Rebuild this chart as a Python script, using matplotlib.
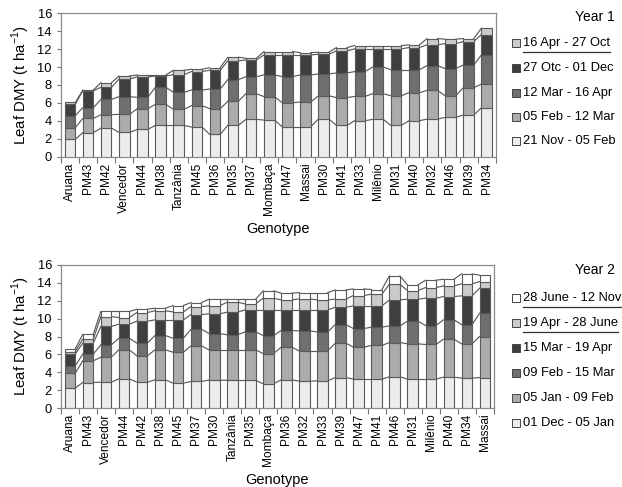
import numpy as np
import matplotlib
matplotlib.use("Agg")
import matplotlib.pyplot as plt
from matplotlib.patches import Rectangle
from matplotlib.lines import Line2D

plt.rcParams['font.family'] = ['Liberation Sans', 'DejaVu Sans']
plt.rcParams['mathtext.fontset'] = 'custom'
plt.rcParams['mathtext.rm'] = 'Liberation Sans'

# ============== 1. Data (Year 1) ==============
genotypes_y1 = ["Aruana", "PM43", "PM42", "Vencedor", "PM44", "PM38", "Tanzânia", "PM45",
                "PM36", "PM35", "PM37", "Mombaça", "PM47", "Massai", "PM30", "PM41",
                "PM33", "Milênio", "PM31", "PM40", "PM32", "PM46", "PM39", "PM34"]
periods_y1 = ["21 Nov - 05 Feb", "05 Feb - 12 Mar", "12 Mar - 16 Apr",
              "27 Otc - 01 Dec", "16 Apr - 27 Oct"]
nov_feb_y1 = [1.95, 2.70, 3.20, 2.72, 3.05, 3.50, 3.50, 3.31, 2.50, 3.50, 4.17, 4.09,
              3.35, 3.35, 4.20, 3.50, 4.02, 4.17, 3.50, 4.02, 4.20, 4.39, 4.65, 5.47]
feb_mar_y1 = [1.30, 1.58, 1.49, 2.01, 2.31, 2.34, 1.78, 2.39, 2.86, 2.68, 2.86, 2.61,
              2.68, 2.75, 2.60, 3.09, 2.71, 2.86, 3.30, 3.12, 3.20, 2.41, 3.05, 2.64]
mar_apr_y1 = [1.35, 1.19, 1.71, 1.97, 1.26, 1.90, 1.90, 1.74, 2.19, 2.42, 1.90, 2.42,
              2.90, 3.02, 2.43, 2.75, 2.76, 2.97, 2.90, 2.56, 2.76, 3.02, 2.53, 3.24]
oct_dec_y1 = [1.25, 1.90, 1.34, 1.97, 2.28, 1.26, 1.97, 2.06, 2.09, 2.08, 1.86, 2.23,
              2.42, 2.23, 2.19, 2.46, 2.53, 2.02, 2.32, 2.47, 2.31, 2.79, 2.61, 2.27]
apr_oct_y1 = [0.20, 0.07, 0.52, 0.33, 0.22, 0.12, 0.49, 0.25, 0.29, 0.41, 0.19, 0.37,
              0.37, 0.25, 0.23, 0.37, 0.37, 0.37, 0.37, 0.30, 0.70, 0.49, 0.33, 0.71]

# ============== 2. Data (Year 2) ==============
genotypes_y2 = ["Aruana", "PM43", "Vencedor", "PM44", "PM42", "PM38", "PM45", "PM37",
                "PM30", "Tanzânia", "PM35", "Mombaça", "PM36", "PM32", "PM33", "PM39",
                "PM47", "PM41", "PM46", "PM31", "Milênio", "PM40", "PM34", "Massai"]
periods_y2 = ["01 Dec - 05 Jan", "05 Jan - 09 Feb", "09 Feb - 15 Mar",
              "15 Mar - 19 Apr", "19 Apr - 28 June", "28 June - 12 Nov"]
dec_jan_y2 = [2.23, 2.86, 2.90, 3.27, 2.90, 3.16, 2.79, 2.98, 3.13, 3.10, 3.10, 2.72,
              3.16, 3.01, 3.05, 3.42, 3.24, 3.24, 3.50, 3.24, 3.24, 3.46, 3.35, 3.42]
jan_feb_y2 = [1.67, 2.42, 2.79, 3.24, 2.94, 3.35, 3.46, 3.98, 3.38, 3.41, 3.41, 3.38,
              3.65, 3.39, 3.35, 3.84, 3.57, 3.76, 3.83, 3.94, 3.87, 4.24, 3.83, 4.58]
feb_mar_y2 = [0.82, 0.75, 1.38, 1.30, 1.42, 1.60, 1.56, 1.86, 1.82, 1.68, 2.01, 2.01,
              1.86, 2.23, 2.12, 2.08, 2.08, 2.04, 1.86, 2.53, 2.12, 2.16, 2.16, 2.60]
mar_apr_y2 = [1.31, 1.23, 2.05, 1.57, 2.45, 1.75, 2.05, 1.64, 2.20, 2.53, 2.46, 2.87,
              2.31, 2.35, 2.46, 1.93, 2.53, 2.38, 2.90, 2.46, 3.05, 2.61, 3.20, 2.80]
apr_jun_y2 = [0.29, 0.44, 1.11, 0.74, 0.97, 1.01, 0.89, 0.89, 0.89, 1.11, 0.67, 1.30,
              1.11, 1.22, 1.11, 0.90, 1.16, 1.31, 1.75, 0.96, 1.19, 1.19, 1.34, 0.74]
jun_nov_y2 = [0.30, 0.55, 0.57, 0.68, 0.37, 0.29, 0.71, 0.45, 0.75, 0.34, 0.52, 0.82,
              0.75, 0.71, 0.82, 1.03, 0.74, 0.52, 0.93, 0.64, 0.82, 0.74, 1.12, 0.71]

colors_y1 = ["#ececec", "#ababab", "#6f6f6f", "#3f3f3f", "#cbcbcb"]
colors_y2 = ["#ececec", "#ababab", "#6f6f6f", "#3f3f3f", "#cbcbcb", "#ffffff"]

EDGE = "#5a5a5a"
BAR_W = 0.58


# ============== 3. Stacked bars with series lines ==============
def draw_panel(ax, labels, series, colors):
    n = len(labels)
    x = np.arange(n)
    bottom = np.zeros(n)
    for vals, col in zip(series, colors):
        vals = np.array(vals)
        ax.bar(x, vals, BAR_W, bottom=bottom, color=col, edgecolor=EDGE,
               linewidth=0.8, zorder=3)
        top = bottom + vals
        # series lines between neighbouring bars
        for i in range(n - 1):
            ax.plot([x[i] + BAR_W / 2, x[i + 1] - BAR_W / 2], [top[i], top[i + 1]],
                    color=EDGE, linewidth=0.85, zorder=2)
        bottom = top

    ax.set_xlim(-0.5, n - 0.5)
    ax.set_ylim(0, 16)
    ax.set_yticks(range(0, 17, 2))
    ax.set_xticks(np.arange(n + 1) - 0.5)
    ax.set_xticklabels([])
    ax.set_xticks(x, minor=True)
    ax.set_xticklabels(labels, minor=True, rotation=90, fontsize=8.6)
    ax.tick_params(axis='x', which='major', length=4, color="#777777")
    ax.tick_params(axis='x', which='minor', length=0, pad=4)
    ax.tick_params(axis='y', length=3, color="#777777", labelsize=9.3)
    for s in ax.spines.values():
        s.set_color("#8a8a8a")
        s.set_linewidth(0.9)
    ax.set_ylabel(r"Leaf DMY (t ha$^{\mathregular{-1}}$)", fontsize=10.8, labelpad=4)
    ax.set_xlabel("Genotype", fontsize=10.5, labelpad=5)


# ============== 4. Hand-made legend ==============
def draw_legend(fig, title, title_y, names, colors, rows_y, underline):
    W, H = fig.get_size_inches() * fig.dpi
    fig.text(615 / W, 1 - title_y / H, title, ha='right', va='center', fontsize=10)
    for name, col, yy in zip(names, colors, rows_y):
        fig.patches.append(Rectangle((512 / W, 1 - (yy + 3.5) / H), 7.5 / W, 7.5 / H,
                                     facecolor=col, edgecolor="#444444", linewidth=0.7,
                                     transform=fig.transFigure, figure=fig))
        t = fig.text(523 / W, 1 - yy / H, name, ha='left', va='center', fontsize=9.3)
        if name in underline:
            fig.canvas.draw()
            bb = t.get_window_extent()
            y_line = bb.y0 - 3
            fig.lines.append(Line2D([bb.x0 / W, bb.x1 / W], [y_line / H, y_line / H],
                                    color="#333333", linewidth=0.9,
                                    transform=fig.transFigure, figure=fig))


def main():
    fig = plt.figure(figsize=(6.22, 4.87), dpi=100)
    ax1 = fig.add_axes([0.098, 0.678, 0.699, 0.295])
    ax2 = fig.add_axes([0.098, 0.162, 0.696, 0.294])

    draw_panel(ax1, genotypes_y1,
               [nov_feb_y1, feb_mar_y1, mar_apr_y1, oct_dec_y1, apr_oct_y1], colors_y1)
    draw_panel(ax2, genotypes_y2,
               [dec_jan_y2, jan_feb_y2, feb_mar_y2, mar_apr_y2, apr_jun_y2, jun_nov_y2],
               colors_y2)

    # legend lists top segment first
    draw_legend(fig, "Year 1", 17, periods_y1[::-1], colors_y1[::-1],
                [43, 68, 93, 117, 141], ["16 Apr - 27 Oct"])
    draw_legend(fig, "Year 2", 270, periods_y2[::-1], colors_y2[::-1],
                [298, 323, 348, 373, 398, 423], ["28 June - 12 Nov", "19 Apr - 28 June"])

    fig.savefig("out.png", dpi=100)


if __name__ == "__main__":
    main()
